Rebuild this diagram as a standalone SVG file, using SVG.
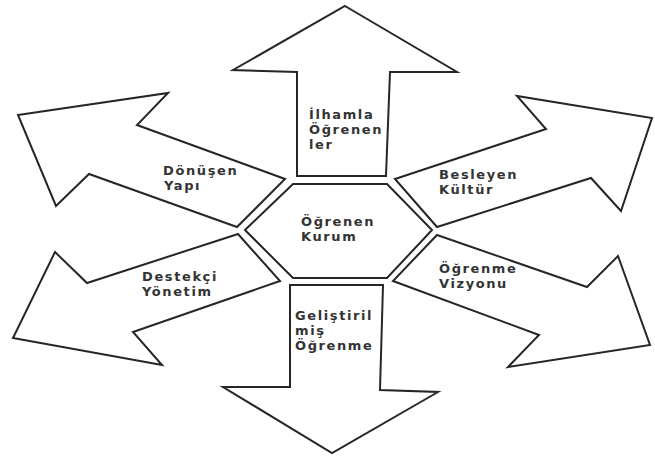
<svg xmlns="http://www.w3.org/2000/svg" width="655" height="460" viewBox="0 0 655 460">
<style>
.shape{fill:#fff;stroke:#262626;stroke-width:2;stroke-linejoin:miter}
.lbl{font-family:"DejaVu Sans","Liberation Sans",sans-serif;font-weight:bold;font-size:13px;letter-spacing:1.6px;fill:#333}
</style>
<rect width="655" height="460" fill="#fff"/>
<g id="connectors"></g>
<g id="center">
<polygon class="shape" points="293,184 387,184 432,230 387,278 293,278 245,230"/>
<text class="lbl" x="301" y="226">Öğrenen</text>
<text class="lbl" x="301" y="241">Kurum</text>
</g>
<g id="up">
<polygon class="shape" points="345,6 457,72 390,72 386,176 297,176 297,72 233,70"/>
<text class="lbl" x="309" y="119">İlhamla</text>
<text class="lbl" x="309" y="134">Öğrenen</text>
<text class="lbl" x="309" y="149">ler</text>
</g>
<g id="down">
<polygon class="shape" points="290,285 383,285 380,390 438,392 332,453 223,387 290,387"/>
<text class="lbl" x="295" y="320">Geliştiril</text>
<text class="lbl" x="295" y="335">miş</text>
<text class="lbl" x="295" y="350">Öğrenme</text>
</g>
<g id="upper-left">
<polygon class="shape" points="18,115 168,93 137,125 285,179 237,227 89,174 56,206"/>
<text class="lbl" x="163" y="175">Dönüşen</text>
<text class="lbl" x="164" y="190">Yapı</text>
</g>
<g id="upper-right">
<polygon class="shape" points="395,179 546,129 517,96 652,118 621,211 591,178 437,227"/>
<text class="lbl" x="439" y="179">Besleyen</text>
<text class="lbl" x="439" y="194">Kültür</text>
</g>
<g id="lower-left">
<polygon class="shape" points="238,234 87,283 55,252 13,338 162,365 133,332 280,281"/>
<text class="lbl" x="142" y="281">Destekçi</text>
<text class="lbl" x="142" y="296">Yönetim</text>
</g>
<g id="lower-right">
<polygon class="shape" points="437,235 587,287 618,256 650,345 508,367 539,335 393,281"/>
<text class="lbl" x="439" y="273">Öğrenme</text>
<text class="lbl" x="439" y="288">Vizyonu</text>
</g>
</svg>
